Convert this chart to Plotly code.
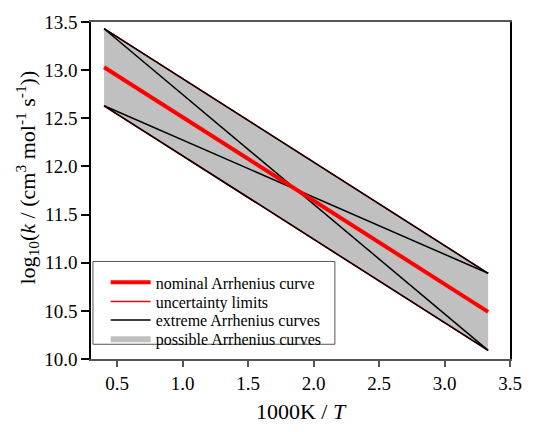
import plotly.graph_objects as go

# Data
inv_T = [0.4, 3.333]                 # 1000K / T
nominal = [13.03, 10.49]             # nominal Arrhenius curve
upper_limit = [13.43, 10.89]         # uncertainty limits
lower_limit = [12.63, 10.09]
extreme_steep = [13.43, 10.09]       # extreme Arrhenius curves (crossing)
extreme_shallow = [12.63, 10.89]

x_ticks = [0.5, 1.0, 1.5, 2.0, 2.5, 3.0, 3.5]
y_ticks = [10.0, 10.5, 11.0, 11.5, 12.0, 12.5, 13.0, 13.5]

FONT = "Liberation Serif"
RED = "#ff0000"
GREY = "#c0c0c0"

fig = go.Figure()

# possible Arrhenius curves (grey band)
fig.add_trace(go.Scatter(
    x=inv_T + inv_T[::-1], y=upper_limit + lower_limit[::-1],
    fill="toself", fillcolor=GREY, mode="lines", line=dict(width=0, color=GREY),
    showlegend=False, hoverinfo="skip"))

# uncertainty limits (thin red)
fig.add_trace(go.Scatter(x=inv_T, y=upper_limit, mode="lines",
                         line=dict(color=RED, width=1.5),
                         name="uncertainty limits", legend="legend2"))
fig.add_trace(go.Scatter(x=inv_T, y=lower_limit, mode="lines",
                         line=dict(color=RED, width=1.5), showlegend=False))

# extreme Arrhenius curves (black)
for i, ys in enumerate([upper_limit, lower_limit, extreme_steep, extreme_shallow]):
    fig.add_trace(go.Scatter(x=inv_T, y=ys, mode="lines",
                             line=dict(color="black", width=1.5),
                             name="extreme Arrhenius curves",
                             showlegend=(i == 0), legend="legend3"))

# nominal curve
fig.add_trace(go.Scatter(x=inv_T, y=nominal, mode="lines",
                         line=dict(color=RED, width=4),
                         name="nominal Arrhenius curve", legend="legend"))

# legend entry for grey band
fig.add_trace(go.Scatter(x=[None], y=[None], mode="lines",
                         line=dict(color=GREY, width=6),
                         name="possible Arrhenius curves", legend="legend4"))

# pixel helpers for legend placement (plot area: x 91..520, y 18..368)
def px_x(p):
    return (p - 91) / 429.0

def px_y(p):
    return (368 - p) / 350.0

row_centers = [288.5, 308.5, 327.7, 347.5]
leg_common = dict(x=px_x(106), xanchor="left", yanchor="middle",
                  bgcolor="rgba(0,0,0,0)", borderwidth=0,
                  font=dict(family=FONT, size=16), itemwidth=40)

fig.update_layout(
    width=534, height=432,
    margin=dict(l=91, r=14, t=18, b=64),
    plot_bgcolor="white", paper_bgcolor="white",
    font=dict(family=FONT, color="black", size=19),
    legend=dict(y=px_y(row_centers[0]), **leg_common),
    legend2=dict(y=px_y(row_centers[1]), **leg_common),
    legend3=dict(y=px_y(row_centers[2]), **leg_common),
    legend4=dict(y=px_y(row_centers[3]), **leg_common),
    shapes=[dict(type="rect", xref="paper", yref="paper",
                 x0=px_x(93), x1=px_x(340.7), y0=px_y(352.7), y1=px_y(266.7),
                 line=dict(color="#555", width=1), fillcolor="white", layer="above")],
    xaxis=dict(range=[0.3, 3.5], tickvals=x_ticks, tickformat=".1f",
               showgrid=False, zeroline=False,
               showline=True, linecolor="#555", linewidth=2, mirror=True,
               ticks="outside", ticklen=6, tickwidth=1.5, tickcolor="#555",
               title=dict(text="1000K / <i>T</i>", font=dict(size=22), standoff=11)),
    yaxis=dict(range=[10.0, 13.5], tickvals=y_ticks, tickformat=".1f",
               showgrid=False, zeroline=False,
               showline=True, linecolor="black", linewidth=1.5, mirror=True,
               ticks="outside", ticklen=8, tickwidth=1.5, tickcolor="black"),
    annotations=[dict(
        text="log<sub>10</sub>(<i>k</i> / (cm<sup>3</sup> mol<sup>-1</sup> s<sup>-1</sup>))",
        xref="paper", yref="paper", x=px_x(26), y=px_y(180),
        xanchor="center", yanchor="middle", textangle=-90, showarrow=False,
        font=dict(family=FONT, size=22))],
)

fig.write_html("out.html")
